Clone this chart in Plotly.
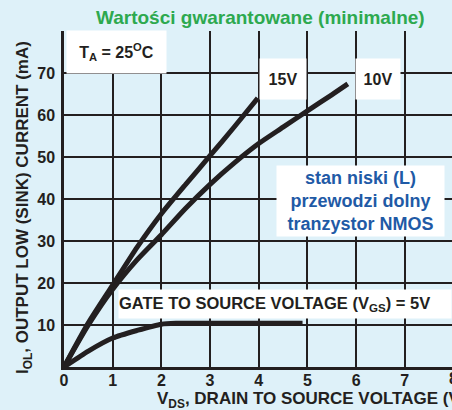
import plotly.graph_objects as go

# ---- data ----
vds_15 = [0, 0.5, 1, 1.5, 2, 2.5, 3, 3.5, 3.98]
iol_15 = [0, 10.5, 19.5, 28.5, 36.5, 43.5, 50.3, 57.2, 64]

vds_10 = [0, 0.5, 1, 1.5, 2, 2.5, 3, 3.5, 4, 4.5, 5, 5.5, 5.83]
iol_10 = [0, 10, 18.5, 25.5, 31.5, 37.8, 43.5, 48.6, 53.2, 57.1, 61.0, 64.8, 67.4]

vds_5 = [0, 0.5, 1, 1.5, 2, 2.3, 3, 4, 4.9]
iol_5 = [0, 3.8, 6.9, 8.7, 10.2, 10.4, 10.4, 10.4, 10.4]

x_ticks = [0, 1, 2, 3, 4, 5, 6, 7]
y_ticks = [10, 20, 30, 40, 50, 60, 70]

BG = "#def1f9"
INK = "#231f20"
FONT = "Liberation Sans, Arial, sans-serif"

fig = go.Figure()
for xs, ys in [(vds_15, iol_15), (vds_10, iol_10), (vds_5, iol_5)]:
    fig.add_trace(go.Scatter(x=xs, y=ys, mode="lines",
                             line=dict(color=INK, width=5, shape="spline", smoothing=0.6),
                             hoverinfo="skip", showlegend=False))

W, H = 452, 410
ML, MR, MT, MB = 64, 0, 31, 43

fig.update_layout(
    width=W, height=H,
    margin=dict(l=ML, r=MR, t=MT, b=MB, pad=0, autoexpand=False),
    paper_bgcolor=BG, plot_bgcolor=BG,
    font=dict(family=FONT, color=INK),
    showlegend=False,
)
fig.update_xaxes(range=[0, 7.97], tickvals=x_ticks, ticktext=[str(v) for v in x_ticks],
                 showgrid=True, gridcolor=INK, gridwidth=1.5,
                 showline=True, linecolor=INK, linewidth=2.5,
                 ticks="", ticklabelstandoff=-3, automargin=False,
                 tickfont=dict(family=FONT, size=16, color=INK, weight="bold"),
                 zeroline=False, fixedrange=True)
fig.update_yaxes(range=[0, 80], tickvals=y_ticks + [80], ticktext=[str(v) for v in y_ticks] + [""],
                 showgrid=True, gridcolor=INK, gridwidth=1.5,
                 showline=True, linecolor=INK, linewidth=2.5,
                 ticks="", ticklabelstandoff=3, automargin=False,
                 tickfont=dict(family=FONT, size=16, color=INK, weight="bold"),
                 zeroline=False, fixedrange=True)

def box(text, x, y, w, h, size=16, color=INK, align="center", xanchor="center"):
    fig.add_annotation(x=x, y=y, xref="x", yref="y", text=text, showarrow=False,
                       bgcolor="white", width=w, height=h, align=align, xanchor=xanchor,
                       valign="middle", borderpad=0,
                       font=dict(family=FONT, size=size, color=color, weight="bold"))

box("T<sub>A</sub> = 25<sup>O</sup>C", 1.07, 75, 99, 42, size=16)
box("15V", 4.5, 68.6, 46, 40, size=16)
box("10V", 6.45, 68.6, 44, 40, size=16)
box("stan niski (L)<br>przewodzi dolny<br>tranzystor NMOS", 6.09, 39.5, 167, 70,
    size=18, color="#1f5aa6")
box("GATE TO SOURCE VOLTAGE (V<sub>GS</sub>) = 5V", 1.11, 15, 332, 28, size=16.5,
    align="left", xanchor="left")

PW, PH = W - ML - MR, H - MT - MB
# title
fig.add_annotation(x=(260 - ML) / PW, y=(H - MB - 18) / PH, xref="paper", yref="paper",
                   yanchor="middle", text="Wartości gwarantowane (minimalne)", showarrow=False,
                   font=dict(family=FONT, size=19, color="#2da94f", weight="bold"))
# x-axis title (cut by right edge)
fig.add_annotation(x=(155 - ML) / PW, y=-(400 - (H - MB)) / PH, xref="paper", yref="paper",
                   xanchor="left", yanchor="middle",
                   text="V<sub>DS</sub>, DRAIN TO SOURCE VOLTAGE (V)", showarrow=False,
                   font=dict(family=FONT, size=17, color=INK, weight="bold"))
# y-axis title
fig.add_annotation(x=(24 - ML) / PW, y=((H - MB) - 208) / PH, xref="paper", yref="paper",
                   xanchor="center", yanchor="middle", textangle=-90,
                   text="I<sub>OL</sub>, OUTPUT LOW (SINK) CURRENT (mA)", showarrow=False,
                   font=dict(family=FONT, size=17, color=INK, weight="bold"))
# tick label 8 at the cut edge
fig.add_annotation(x=(453 - ML) / PW, y=-(378 - (H - MB)) / PH, xref="paper", yref="paper",
                   xanchor="center", yanchor="middle", text="8", showarrow=False,
                   font=dict(family=FONT, size=16, color=INK, weight="bold"))

fig.write_html("out.html", config={"displayModeBar": False},
               post_script="document.body.style.margin='0';document.body.style.overflow='hidden';")
